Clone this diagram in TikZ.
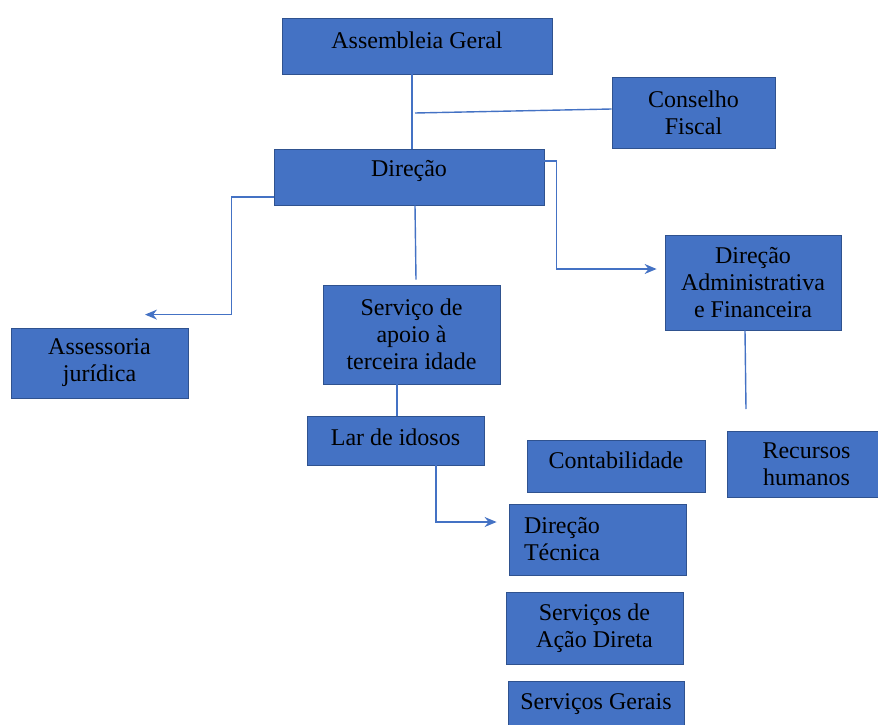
\documentclass[tikz,border=0pt]{standalone}
\usepackage{fontspec}
\setmainfont{Liberation Serif}
\usetikzlibrary{arrows.meta}
\definecolor{orgfill}{HTML}{4472C4}
\definecolor{orgedge}{HTML}{2F528F}
\definecolor{orgline}{HTML}{4472C4}

\begin{document}
\begin{tikzpicture}[x=1pt,y=-1pt]
\tikzstyle{unit} = [draw=orgedge, fill=orgfill, line width=0.8pt, inner sep=2pt, align=center, font=\fontsize{24}{27}\selectfont]
\tikzstyle{link} = [draw=orgline, line width=1.4pt]
\tikzstyle{linkarrow} = [link, -{Stealth[length=12pt,width=10pt]}]
\useasboundingbox (0,0) rectangle (878,725);
% boxes
\node[unit, minimum width=270pt, minimum height=56pt, text depth=12pt] (ag) at (417,46) {Assembleia Geral};
\node[unit, minimum width=163pt, minimum height=71pt] (cf) at (693.5,112.5) {Conselho\\Fiscal};
\node[unit, minimum width=270pt, minimum height=56pt, text depth=18pt] (dir) at (409,177) {Direção};
\node[unit, minimum width=177pt, minimum height=70pt] (aj) at (99.5,363) {Assessoria\\jurídica};
\node[unit, minimum width=177pt, minimum height=99pt] (sati) at (411.5,334.5) {Serviço de\\apoio à\\terceira idade};
\node[unit, minimum width=176pt, minimum height=95pt] (daf) at (753,282.5) {Direção\\Administrativa\\e Financeira};
\node[unit, minimum width=177pt, minimum height=49pt, text depth=6pt] (lar) at (395.5,440.5) {Lar de idosos};
\node[unit, minimum width=178pt, minimum height=52pt, text depth=12pt] (cont) at (616,466) {Contabilidade};
\node[unit, minimum width=159pt, minimum height=66pt] (rh) at (806.5,464) {Recursos\\humanos};
\node[unit, minimum width=177pt, minimum height=71pt, text width=147pt, align=left] (dt) at (597.5,539.5) {Direção\\Técnica};
\node[unit, minimum width=177pt, minimum height=72pt] (sad) at (594.5,628) {Serviços de\\Ação Direta};
\node[unit, minimum width=176pt, minimum height=56pt, text depth=14pt] (sg) at (596,709) {Serviços Gerais};
% connectors
\coordinate (cfjoin) at (415,113);
\coordinate (dafend) at (746,409);
\draw[link] ([xshift=-5pt]ag.south) -- ([xshift=-5pt]ag.south |- dir.north);
\draw[link] ([yshift=3.5pt]cf.west) -- (cfjoin);
\draw[linkarrow] ([yshift=16pt]dir.east) -- ++(12pt,0pt) |- ([xshift=-8pt,yshift=13.5pt]daf.west);
\draw[linkarrow] ([yshift=-20pt]dir.west) -- ++(-42pt,0pt) |- ([xshift=45.5pt,yshift=13pt]aj.north);
\draw[link] ([xshift=6pt]dir.south) -- ([xshift=4.5pt,yshift=5pt]sati.north);
\draw[link] ([xshift=1.5pt]lar.north) -- ([xshift=1.5pt]lar.north |- sati.south);
\draw[linkarrow] ([xshift=40.5pt]lar.south) |- ([xshift=-12pt,yshift=17.5pt]dt.west);
\draw[link] ([xshift=-8pt]daf.south) -- (dafend);
\end{tikzpicture}
\end{document}
